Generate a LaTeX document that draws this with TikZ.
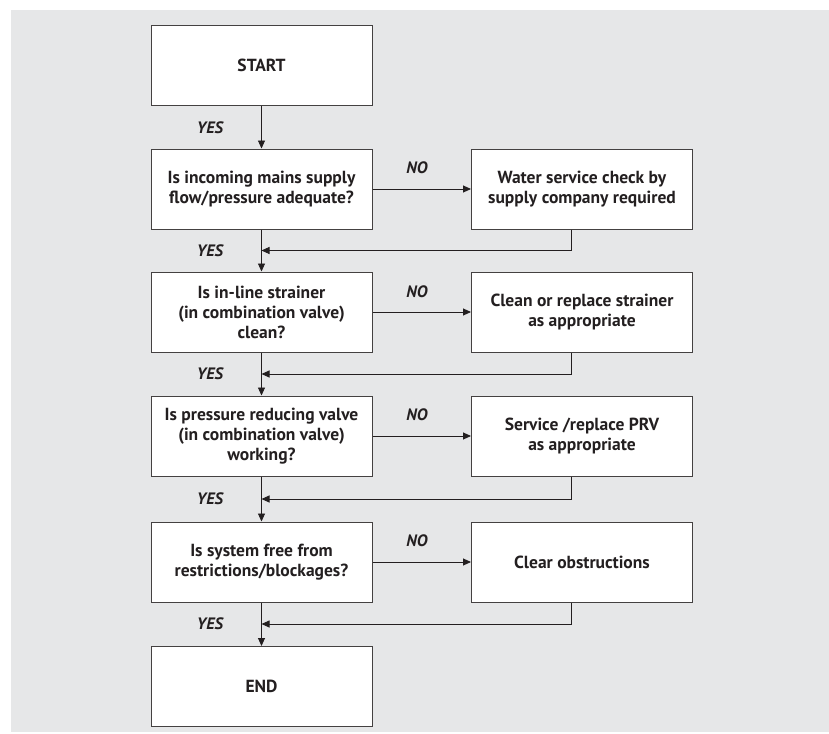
\documentclass[tikz,border=0pt]{standalone}
\usepackage{fontspec}
\setmainfont{PT Sans}
\usetikzlibrary{arrows.meta}
\definecolor{panelgrey}{RGB}{230,231,232}
\definecolor{inkgrey}{RGB}{35,31,32}

\begin{document}
\begin{tikzpicture}[
    x=1pt, y=-1pt,
    box/.style={rectangle,draw=inkgrey!85,fill=white,line width=1pt,minimum width=221pt,minimum height=80pt,align=center,text=inkgrey,font=\bfseries\fontsize{17.5}{20}\selectfont},
    answer/.style={text=inkgrey,font=\bfseries\itshape\fontsize{16.5}{18}\selectfont},
    flow/.style={draw=inkgrey,line width=0.9pt,-{Triangle[length=8pt,width=7pt]}}
    ]

    % background panel:
    \useasboundingbox (0,0) rectangle (829,733);
    \fill[panelgrey] (11,10) rectangle (829,732);

    % question column:
    \node (start) at (261.5,65.5) [box] {START};
    \node (q1) at (261.5,189) [box] {Is incoming mains supply\\flow/pressure adequate?};
    \node (q2) at (261.5,312) [box] {Is in-line strainer\\(in combination valve)\\clean?};
    \node (q3) at (261.5,436) [box] {Is pressure reducing valve\\(in combination valve)\\working?};
    \node (q4) at (261.5,562) [box] {Is system free from\\restrictions/blockages?};
    \node (finish) at (261.5,686.5) [box] {END};

    % action column:
    \node (a1) at (582,189) [box] {Water service check by\\supply company required};
    \node (a2) at (582,312) [box] {Clean or replace strainer\\as appropriate};
    \node (a3) at (582,436) [box] {Service /replace PRV\\as appropriate};
    \node (a4) at (582,562) [box] {Clear obstructions};

    % return corners:
    \coordinate (r1) at (571,250.5);
    \coordinate (r2) at (571,374);
    \coordinate (r3) at (571,499);
    \coordinate (r4) at (571,624);

    % answers:
    \node (yes0) at (210,127.5) [answer] {YES};
    \node (yes1) at (210,250.5) [answer] {YES};
    \node (yes2) at (210,374) [answer] {YES};
    \node (yes3) at (210,499) [answer] {YES};
    \node (yes4) at (210,624) [answer] {YES};
    \node (no1) at (417,168) [answer] {NO};
    \node (no2) at (417,292) [answer] {NO};
    \node (no3) at (417,415) [answer] {NO};
    \node (no4) at (417,541) [answer] {NO};

    % connect nodes:
    \draw [flow] (start) to (q1);
    \draw [flow] (q1) to (q2);
    \draw [flow] (q2) to (q3);
    \draw [flow] (q3) to (q4);
    \draw [flow] (q4) to (finish);
    \draw [flow] (q1) to (a1);
    \draw [flow] (q2) to (a2);
    \draw [flow] (q3) to (a3);
    \draw [flow] (q4) to (a4);
    \draw [flow] (a1.south -| r1) -- (r1) -- (r1 -| q1);
    \draw [flow] (a2.south -| r2) -- (r2) -- (r2 -| q2);
    \draw [flow] (a3.south -| r3) -- (r3) -- (r3 -| q3);
    \draw [flow] (a4.south -| r4) -- (r4) -- (r4 -| q4);

\end{tikzpicture}
\end{document}
